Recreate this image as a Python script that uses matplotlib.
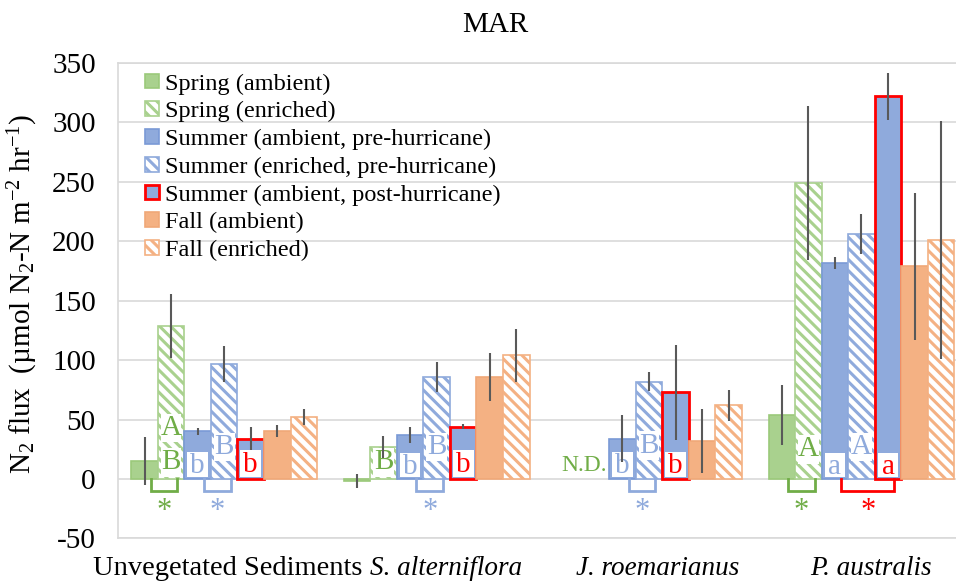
import numpy as np
import matplotlib
matplotlib.use("Agg")
import matplotlib.pyplot as plt
from matplotlib.patches import Rectangle
from matplotlib.transforms import ScaledTranslation

plt.rcParams['font.family'] = ['Liberation Serif', 'DejaVu Serif']
plt.rcParams['mathtext.fontset'] = 'custom'
plt.rcParams['mathtext.rm'] = 'Liberation Serif'
plt.rcParams['mathtext.it'] = 'Liberation Serif:italic'
plt.rcParams['hatch.linewidth'] = 2.2
plt.rcParams['axes.unicode_minus'] = False

# categories and series
groups = ['Unvegetated Sediments', 'S. alterniflora', 'J. roemarianus', 'P. australis']
series_names = ['Spring (ambient)', 'Spring (enriched)',
                'Summer (ambient, pre-hurricane)', 'Summer (enriched, pre-hurricane)',
                'Summer (ambient, post-hurricane)', 'Fall (ambient)', 'Fall (enriched)']

nan = np.nan
spring_amb = [15, -1.5, nan, 54]
spring_enr = [129, 27, nan, 249]
summer_amb = [40, 37, 34, 182]
summer_enr = [97, 86, 82, 206]
summer_post = [34, 44, 73, 322]
fall_amb = [40, 86, 32, 179]
fall_enr = [52, 104, 62, 201]

spring_amb_err = [20, 6, nan, 25]
spring_enr_err = [27, 9, nan, 65]
summer_amb_err = [3, 7, 20, 5]
summer_enr_err = [15, 12.5, 8, 17]
summer_post_err = [10, 2, 40, 20]
fall_amb_err = [5, 20, 27, 62]
fall_enr_err = [7, 22, 13, 100]

values = [spring_amb, spring_enr, summer_amb, summer_enr, summer_post, fall_amb, fall_enr]
errors = [spring_amb_err, spring_enr_err, summer_amb_err, summer_enr_err,
          summer_post_err, fall_amb_err, fall_enr_err]

GREEN = '#A9D18E'
GREEN_D = '#70AD47'
BLUE = '#8FAADC'
BLUE_D = '#7A9AD6'
ORANGE = '#F4B183'
RED = '#FF0000'

# (fill, edge, hatched)
styles = [(GREEN, '#9BC97A', False), (GREEN, GREEN, True),
          (BLUE, BLUE_D, False), (BLUE, BLUE_D, True),
          (BLUE, RED, False), (ORANGE, '#F0A878', False), (ORANGE, ORANGE, True)]

# significance letters: (group, series, letter, y, colour)
letters = [(0, 1, 'A', 43, GREEN_D), (0, 1, 'B', 14, GREEN_D), (0, 2, 'b', 11, BLUE),
           (0, 3, 'B', 27, BLUE), (0, 4, 'b', 12, RED),
           (1, 1, 'B', 14, GREEN_D), (1, 2, 'b', 10, BLUE), (1, 3, 'B', 27, BLUE), (1, 4, 'b', 12, RED),
           (2, 2, 'b', 11, BLUE), (2, 3, 'B', 28, BLUE), (2, 4, 'b', 11, RED),
           (3, 1, 'A', 25, GREEN_D), (3, 2, 'a', 10, BLUE), (3, 3, 'A', 27, BLUE), (3, 4, 'a', 10, RED)]

# brackets with asterisk: (group, series from, series to, colour)
brackets = [(0, 0, 1, GREEN_D), (0, 2, 3, BLUE), (1, 2, 3, BLUE),
            (2, 2, 3, BLUE), (3, 0, 1, GREEN_D), (3, 2, 4, RED)]

fig = plt.figure(figsize=(9.56, 5.84), dpi=100)
ax = fig.add_axes([0.1234, 0.0781, 0.8888, 0.814])

x = np.arange(len(groups))
w = 0.125

for k in range(7):
    fill, edge, hatched = styles[k]
    pos = x + (k - 3) * w
    if hatched:
        ax.bar(pos, values[k], w, color='white', edgecolor=fill, hatch='\\\\\\',
               linewidth=1.2, zorder=2, label=series_names[k])
    else:
        lw = 2.0 if edge == RED else 1.2
        ax.bar(pos, values[k], w, color=fill, edgecolor=edge, linewidth=lw,
               zorder=2, label=series_names[k])

# white boxes with letters inside the bars
for g, s, txt, yv, col in letters:
    xc = x[g] + (s - 3) * w
    y0 = max(yv - 12, 1.5)
    y1 = yv + 12
    ax.add_patch(Rectangle((xc - 0.39 * w, y0), 0.78 * w, y1 - y0, facecolor='white',
                           edgecolor='none', zorder=3))
    ax.text(xc, yv, txt, color=col, fontsize=21, ha='center', va='center', zorder=3.5)

for k in range(7):
    pos = x + (k - 3) * w
    ax.errorbar(pos, values[k], yerr=errors[k], fmt='none', ecolor='#595959',
                elinewidth=1.5, capsize=0, zorder=4)

ax.text(x[2] - 0.306, 11, 'N.D.', color=GREEN_D, fontsize=17, ha='center', va='center', zorder=3)

off = 0.03
for g, i, j, col in brackets:
    x1 = x[g] + (i - 3) * w + off
    x2 = x[g] + (j - 3) * w + off
    ax.plot([x1, x1, x2, x2], [0, -10, -10, 0], color=col, lw=2, zorder=3,
            solid_joinstyle='miter')
    ax.text((x1 + x2) / 2, -27, '*', color=col, fontsize=22, ha='center', va='center', zorder=3)

ax.set_xlim(-0.5, 3.5)
ax.set_ylim(-50, 350)
ax.set_yticks(np.arange(-50, 351, 50))
ax.tick_params(axis='y', length=0, pad=16, labelsize=21)
ax.set_xticks(x)
ax.set_xticklabels(groups, fontsize=20.5)
ax.tick_params(axis='x', length=0, pad=13)
for n, lab in enumerate(ax.get_xticklabels()):
    if n == 0:
        shift = 4
    else:
        lab.set_style('italic')
        lab.set_fontsize(19.5)
        shift = 9
    lab.set_transform(lab.get_transform() + ScaledTranslation(shift / 100, 0, fig.dpi_scale_trans))
ax.grid(axis='y', color='#D9D9D9', lw=1.2, zorder=0)
ax.set_axisbelow(True)
for sp in ax.spines.values():
    sp.set_color('#D9D9D9')
    sp.set_linewidth(1.2)

ax.set_ylabel('N$_2$ flux  (µmol N$_2$-N m$^{-2}$ hr$^{-1}$)', fontsize=21)
ax.yaxis.set_label_coords(-0.092, 0.515)

ax.legend(loc='upper left', bbox_to_anchor=(0.032, 0.978), frameon=False, fontsize=17.5,
          handlelength=0.55, handleheight=0.55, handletextpad=0.25, labelspacing=0.27,
          borderpad=0, borderaxespad=0)

fig.text(495.5 / 956, 1 - 31.7 / 584, 'MAR', fontsize=21, ha='center', va='baseline')

fig.savefig('out.png', dpi=100)
